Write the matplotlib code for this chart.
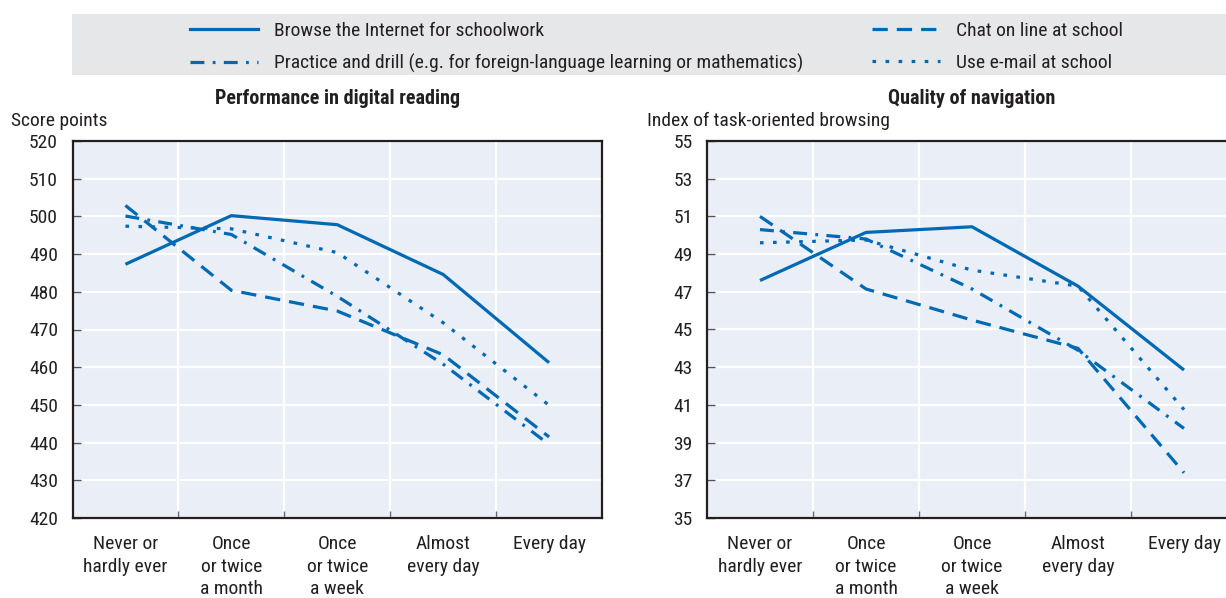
import matplotlib.pyplot as plt
from matplotlib import font_manager
from matplotlib.lines import Line2D
from matplotlib.patches import Rectangle

# === Data ===
categories = ["Never or\nhardly ever", "Once\nor twice\na month", "Once\nor twice\na week",
              "Almost\nevery day", "Every day"]

series_names = ["Browse the Internet for schoolwork",
                "Practice and drill (e.g. for foreign-language learning or mathematics)",
                "Chat on line at school",
                "Use e-mail at school"]

reading_browse = [487.3, 500.2, 497.8, 484.6, 461.2]
reading_practice = [500.1, 495.2, 478.8, 460.8, 439.5]
reading_chat = [502.9, 480.4, 474.9, 463.3, 441.5]
reading_email = [497.4, 496.7, 490.4, 471.8, 449.9]

nav_browse = [47.6, 50.15, 50.45, 47.3, 42.85]
nav_practice = [50.3, 49.8, 47.15, 43.9, 39.75]
nav_chat = [51.0, 47.15, 45.5, 44.0, 37.4]
nav_email = [49.6, 49.75, 48.15, 47.3, 40.75]

reading_ticks = list(range(420, 521, 10))
nav_ticks = list(range(35, 56, 2))

# === Style ===
# pick a condensed sans face if one is around
available = {f.name for f in font_manager.fontManager.ttflist}
narrow = next((n for n in ["Roboto Condensed", "Archivo Narrow", "PT Sans Narrow",
                           "Fira Sans Condensed"] if n in available), "DejaVu Sans")
plt.rcParams["font.family"] = [narrow, "DejaVu Sans"]
plt.rcParams["lines.scale_dashes"] = False

BLUE = "#0069b4"
TEXT = "#231f20"
FS = 14
LW = 2.3
styles = [
    dict(linestyle="-"),
    dict(dashes=(10, 6, 2, 6)),
    dict(dashes=(11, 6.5)),
    dict(dashes=(2.6, 6.8)),
]

W, H = 1226, 598
fig = plt.figure(figsize=(W / 100, H / 100), dpi=100)


def px_box(x0, y0, x1, y1):
    return [x0 / W, 1 - y1 / H, (x1 - x0) / W, (y1 - y0) / H]


def style_axes(ax, ticks, title, ylabel, ylabel_x):
    ax.set_facecolor("#e9eef7")
    ax.set_xlim(-0.5, len(categories) - 0.5)
    ax.set_ylim(ticks[0], ticks[-1])
    ax.set_yticks(ticks)
    ax.set_xticks(list(range(len(categories))))
    ax.set_xticklabels(categories, linespacing=1.32)
    ax.set_xticks([i + 0.5 for i in range(len(categories) - 1)], minor=True)
    ax.tick_params(axis="x", which="major", length=0, pad=12.5, labelsize=FS, labelcolor=TEXT)
    ax.tick_params(axis="x", which="minor", direction="in", length=5, width=1, color="#666666")
    ax.tick_params(axis="y", direction="in", length=6, width=1, color="#555555",
                   pad=10.5, labelsize=FS, labelcolor=TEXT)
    ax.grid(True, axis="y", which="major", color="white", linewidth=1.6)
    ax.grid(True, axis="x", which="minor", color="white", linewidth=1.6)
    ax.set_axisbelow(True)
    for s in ax.spines.values():
        s.set_color("#231f20")
        s.set_linewidth(1.6)
    ax.set_title(title, fontsize=14.5, fontweight="bold", color=TEXT, pad=26.5)
    ax.text(ylabel_x / W, 1 - 121 / H, ylabel, transform=fig.transFigure,
            fontsize=FS, color=TEXT, va="center", ha="left")


def draw_lines(ax, values):
    for vals, st in zip(values, styles):
        ax.plot(range(len(categories)), vals, color=BLUE, linewidth=LW,
                solid_capstyle="butt", dash_capstyle="butt", **st)


# === Left panel: digital reading ===
ax1 = fig.add_axes(px_box(72.5, 141, 602, 518))
draw_lines(ax1, [reading_browse, reading_practice, reading_chat, reading_email])
style_axes(ax1, reading_ticks, "Performance in digital reading", "Score points", 11)

# === Right panel: navigation (runs past the right edge) ===
ax2 = fig.add_axes(px_box(707, 141, 1237, 518))
draw_lines(ax2, [nav_browse, nav_practice, nav_chat, nav_email])
style_axes(ax2, nav_ticks, "Quality of navigation", "Index of task-oriented browsing", 647)

# === Legend band ===
fig.patches.append(Rectangle((72 / W, 1 - 75 / H), (W - 72) / W, 61 / H,
                             transform=fig.transFigure, facecolor="#e6e7e9",
                             edgecolor="none", zorder=0))
handles = [Line2D([], [], color=BLUE, linewidth=LW, dash_capstyle="butt", **st) for st in styles]
for idx, x0 in [((0, 1), 190), ((2, 3), 872)]:
    fig.legend([handles[i] for i in idx], [series_names[i] for i in idx],
               frameon=False, loc="upper left", bbox_to_anchor=(x0 / W, 1 - 21.5 / H),
               borderpad=0, borderaxespad=0, fontsize=FS, handlelength=68 / 19.4,
               handletextpad=16 / 19.4, labelspacing=0.76, labelcolor=TEXT)

plt.savefig("out.png", dpi=100)
